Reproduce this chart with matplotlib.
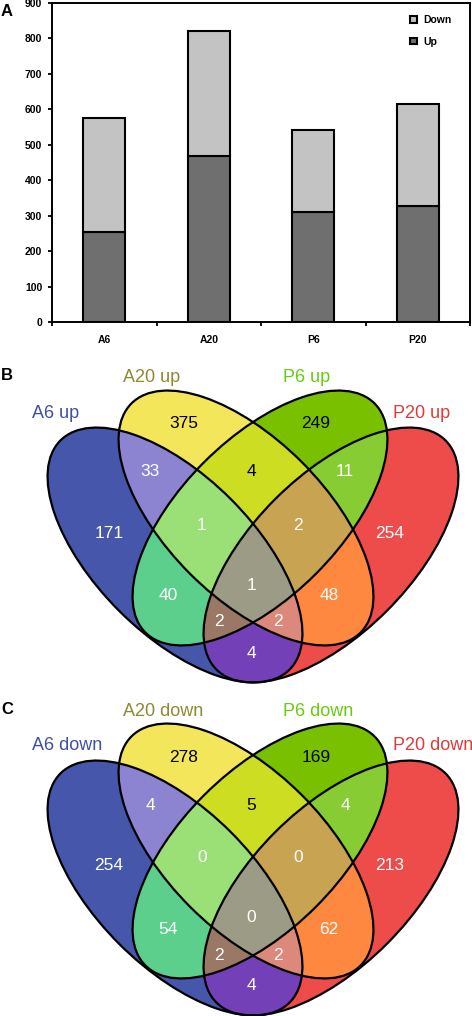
import numpy as np
import matplotlib.pyplot as plt
from matplotlib.patches import Ellipse
from matplotlib.colors import to_rgba

# panel A: number of up / down genes per sample
samples = ['A6', 'A20', 'P6', 'P20']
up = [253, 467, 310, 328]
down = [322, 355, 232, 287]

# panels B and C: overlap counts, keyed by membership (A6, A20, P6, P20)
region_keys = [(1, 0, 0, 0), (0, 1, 0, 0), (0, 0, 1, 0), (0, 0, 0, 1),
               (1, 1, 0, 0), (0, 1, 1, 0), (0, 0, 1, 1), (1, 0, 1, 0),
               (0, 1, 0, 1), (1, 0, 0, 1), (1, 1, 1, 0), (0, 1, 1, 1),
               (1, 0, 1, 1), (1, 1, 0, 1), (1, 1, 1, 1)]
counts_up = [171, 375, 249, 254, 33, 4, 11, 40, 48, 4, 1, 2, 2, 2, 1]
counts_down = [254, 278, 169, 213, 4, 5, 4, 54, 62, 4, 0, 0, 2, 2, 0]
set_names = ['A6', 'A20', 'P6', 'P20']
set_colors = ['#3f4fa8', '#8c8a30', '#66cc11', '#e03a3a']

region_colors = {
    (1, 0, 0, 0): '#4656ab', (0, 1, 0, 0): '#f4e65a', (0, 0, 1, 0): '#78c000',
    (0, 0, 0, 1): '#ee4b4b', (1, 1, 0, 0): '#8c84d0', (0, 1, 1, 0): '#ccdd22',
    (0, 0, 1, 1): '#88cc33', (1, 0, 1, 0): '#5ccf8c', (0, 1, 0, 1): '#ff8840',
    (1, 0, 0, 1): '#7340b8', (1, 1, 1, 0): '#9bdf77', (0, 1, 1, 1): '#c7a352',
    (1, 0, 1, 1): '#9a7865', (1, 1, 0, 1): '#dc887a', (1, 1, 1, 1): '#9c9c86',
}
# where each count is written (pixel coords of panel B)
label_pos = {
    (1, 0, 0, 0): (109, 533), (0, 1, 0, 0): (184, 424), (0, 0, 1, 0): (316, 424),
    (0, 0, 0, 1): (390, 533), (1, 1, 0, 0): (150, 472), (0, 1, 1, 0): (251, 472),
    (0, 0, 1, 1): (345, 472), (1, 0, 1, 0): (168, 596), (0, 1, 0, 1): (329, 596),
    (1, 0, 0, 1): (251, 653), (1, 1, 1, 0): (202, 525), (0, 1, 1, 1): (298, 525),
    (1, 0, 1, 1): (219, 622), (1, 1, 0, 1): (278, 622), (1, 1, 1, 1): (251, 585),
}
dark_text = [(0, 1, 0, 0), (0, 0, 1, 0), (0, 1, 1, 0)]

# ellipse geometry in pixels (panel B), panel C is shifted down
ell = [(175, 555, 45), (246, 518, 45), (260, 518, -45), (331, 555, -45)]
ea, eb = 162, 79
shift_c = 333

W, H = 472, 1016
fig = plt.figure(figsize=(W / 100, H / 100), dpi=100)

# ---------------- panel A ----------------
axA = fig.add_axes([52 / W, 1 - 322 / H, 418 / W, 319 / H])
x = np.arange(len(samples))
b_up = axA.bar(x, up, width=0.4, color='#6f6f6f', edgecolor='black', linewidth=1.5)
b_dn = axA.bar(x, down, bottom=up, width=0.4, color='#c3c3c3', edgecolor='black', linewidth=1.5)
axA.set_xlim(-0.5, 3.5)
axA.set_ylim(0, 900)
axA.set_yticks(range(0, 901, 100))
axA.set_xticks(np.arange(-0.5, 4, 1))
axA.set_xticklabels([])
axA.set_xticks(x, minor=True)
axA.set_xticklabels(samples, minor=True)
axA.tick_params(axis='x', which='minor', length=0, pad=9.5)
axA.tick_params(axis='x', which='major', length=3, width=1.3)
axA.tick_params(axis='y', length=3, width=1.3, pad=4)
for lab in axA.get_yticklabels() + axA.get_xticklabels(minor=True):
    lab.set_fontsize(7.5)
    lab.set_fontweight('bold')
    lab.set_family(['Liberation Sans', 'DejaVu Sans'])
for sp in axA.spines.values():
    sp.set_linewidth(1.4)
axA.legend([b_dn, b_up], ['Down', 'Up'], loc='upper right', bbox_to_anchor=(0.965, 0.975),
           frameon=False, borderaxespad=0, handlelength=0.6, handleheight=0.6,
           handletextpad=0.6, labelspacing=1.1,
           prop={'size': 7.5, 'weight': 'bold', 'family': ['Liberation Sans', 'DejaVu Sans']})
fig.text(1 / W, 1 - 12 / H, 'A', fontsize=12, fontweight='bold', va='center',
         family=['Liberation Sans', 'DejaVu Sans'])

# ---------------- panels B and C ----------------
axV = fig.add_axes([0, 0, 1, 1], zorder=-1)
axV.set_axis_off()

xs = np.arange(0, W, 0.5) + 0.25
ys = np.arange(338, H, 0.5) + 0.25
gx, gy = np.meshgrid(xs, ys)
img = np.zeros(gx.shape + (4,))


def inside(cx, cy, ang):
    t = np.radians(ang)
    dx, dy = gx - cx, gy - cy
    p = dx * np.cos(t) + dy * np.sin(t)
    q = -dx * np.sin(t) + dy * np.cos(t)
    return (p / ea) ** 2 + (q / eb) ** 2 <= 1


for off in (0, shift_c):
    masks = [inside(cx, cy + off, ang) for cx, cy, ang in ell]
    for key in region_keys:
        m = np.ones(gx.shape, bool)
        for k, mk in zip(key, masks):
            m &= mk if k else ~mk
        img[m] = to_rgba(region_colors[key])

axV.imshow(img, extent=(0, W, H, 338), origin='upper', interpolation='nearest')

vfont = ['Liberation Sans', 'DejaVu Sans']
set_label_pos = [(32, 413), (123, 378), (283, 378), (393, 413)]

for off, counts, word in ((0, counts_up, 'up'), (shift_c, counts_down, 'down')):
    for cx, cy, ang in ell:
        axV.add_patch(Ellipse((cx, cy + off), 2 * ea, 2 * eb, angle=ang,
                              fill=False, ec='black', lw=1.6))
    for key, n in zip(region_keys, counts):
        px, py = label_pos[key]
        axV.text(px, py + off, str(n), ha='center', va='center', fontsize=12.5,
                 family=vfont, color='black' if key in dark_text else 'white')
    for name, col, (px, py) in zip(set_names, set_colors, set_label_pos):
        axV.text(px, py + off, f'{name} {word}', ha='left', va='center',
                 fontsize=13, family=vfont, color=col)

fig.text(1 / W, 1 - 375 / H, 'B', fontsize=12, fontweight='bold', va='center', family=vfont)
fig.text(1 / W, 1 - 710 / H, 'C', fontsize=12, fontweight='bold', va='center', family=vfont)

axV.set_xlim(0, W)
axV.set_ylim(H, 0)

fig.savefig('out.png', dpi=100)
